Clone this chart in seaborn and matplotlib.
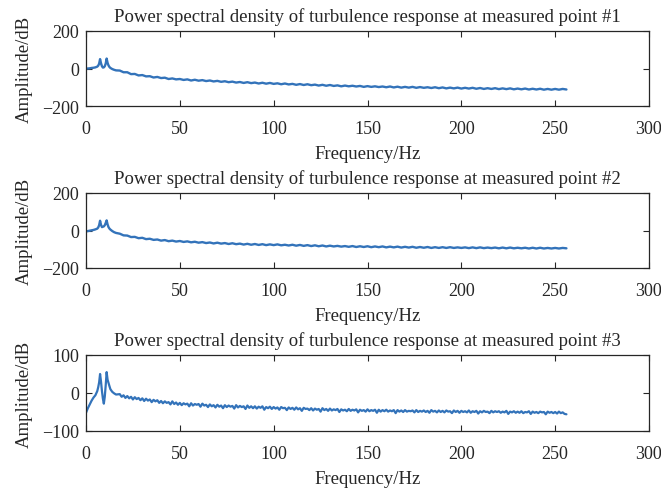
import numpy as np
import pandas as pd
import matplotlib
matplotlib.use("Agg")
import matplotlib.pyplot as plt
import seaborn as sns

# ---- data ----
freq_low = [0, 1, 2, 3, 4, 5, 6, 6.5, 7, 7.5, 8, 8.5, 9, 9.5, 10, 10.5, 11, 11.5, 12, 12.5, 13, 14, 15, 16]
freq_high_2hz = list(range(18, 257, 2))
freq_high_1hz = list(range(18, 257, 1))

psd1_low = [-1, 0, 1, 3, 4, 6, 10, 15, 26, 50, 28, 12, 5, 6, 12, 26, 53, 30, 16, 8, 3, -3, -7, -10]
psd1_high = [
    -11, -20, -20, -30, -29, -37, -35, -42, -41, -48,
    -45, -51, -49, -56, -53, -58, -56, -61, -58, -64,
    -60, -65, -62, -67, -64, -69, -66, -71, -68, -73,
    -70, -75, -72, -77, -73, -78, -75, -80, -76, -81,
    -77, -82, -79, -84, -80, -85, -82, -87, -83, -88,
    -84, -89, -86, -91, -87, -92, -88, -93, -90, -95,
    -91, -95, -92, -96, -93, -98, -94, -98, -95, -99,
    -96, -100, -96, -101, -97, -102, -98, -102, -98, -103,
    -99, -103, -100, -104, -100, -105, -101, -106, -102, -106,
    -102, -107, -103, -107, -103, -108, -104, -109, -105, -109,
    -105, -110, -106, -110, -106, -111, -107, -111, -107, -112,
    -108, -112, -108, -113, -109, -113, -109, -113, -109, -112,
]

psd2_low = [-5, -3, -1, 1, 3, 6, 10, 16, 28, 52, 30, 18, 20, 22, 28, 40, 54, 32, 18, 10, 5, -3, -9, -13]
psd2_high = [
    -17, -26, -27, -35, -34, -41, -39, -46, -44, -50,
    -48, -54, -51, -57, -54, -59, -56, -61, -58, -63,
    -60, -65, -62, -67, -64, -69, -65, -70, -67, -72,
    -68, -73, -70, -75, -71, -76, -72, -77, -73, -78,
    -74, -78, -74, -79, -76, -80, -76, -81, -77, -82,
    -78, -83, -79, -84, -80, -85, -81, -85, -82, -86,
    -83, -87, -83, -88, -84, -88, -84, -89, -85, -89,
    -85, -90, -86, -90, -86, -91, -87, -91, -87, -92,
    -88, -92, -88, -93, -89, -93, -89, -93, -89, -93,
    -90, -93, -90, -94, -90, -94, -90, -94, -91, -94,
    -91, -95, -91, -95, -91, -95, -92, -95, -92, -96,
    -92, -96, -92, -96, -93, -96, -93, -96, -93, -95,
]

psd3_low = [-52, -40, -30, -20, -12, -6, 5, 15, 28, 50, 30, 5, -15, -28, -10, 20, 55, 35, 26, 18, 10, 3, -1, -4]
psd3_high = [
    -3, -10,
    -6, -13, -8, -14, -10, -17, -11, -16, -13, -19,
    -14, -21, -15, -20, -17, -24, -18, -22, -19, -26,
    -21, -27, -22, -26, -24, -30, -22, -29, -25, -31,
    -26, -32, -27, -30, -28, -35, -27, -33, -29, -31,
    -29, -36, -28, -33, -31, -37, -30, -35, -32, -38,
    -31, -36, -33, -40, -32, -37, -33, -36, -34, -41,
    -32, -38, -34, -37, -35, -42, -33, -39, -35, -40,
    -35, -41, -36, -39, -35, -44, -37, -40, -36, -42,
    -37, -41, -38, -44, -37, -40, -39, -45, -38, -42,
    -39, -44, -38, -43, -40, -47, -39, -42, -41, -45,
    -40, -46, -41, -44, -42, -49, -40, -45, -42, -47,
    -41, -46, -43, -45, -42, -50, -43, -46, -44, -48,
    -42, -47, -44, -46, -43, -51, -44, -47, -45, -49,
    -43, -48, -45, -47, -44, -52, -44, -49, -45, -48,
    -44, -49, -46, -48, -45, -53, -45, -49, -46, -50,
    -45, -49, -47, -48, -46, -51, -45, -50, -47, -49,
    -46, -50, -47, -52, -45, -49, -47, -51, -46, -50,
    -47, -51, -46, -49, -48, -53, -46, -50, -47, -52,
    -47, -50, -48, -51, -46, -52, -48, -50, -47, -54,
    -48, -51, -47, -50, -49, -53, -47, -51, -48, -50,
    -48, -52, -49, -51, -47, -55, -49, -51, -48, -52,
    -49, -52, -48, -53, -50, -51, -48, -55, -49, -52,
    -50, -53, -49, -51, -50, -56, -49, -52, -50, -53,
    -50, -54, -49, -53, -51, -55, -56,
]

freqs = [freq_low + freq_high_2hz, freq_low + freq_high_2hz, freq_low + freq_high_1hz]
series = [psd1_low + psd1_high, psd2_low + psd2_high, psd3_low + psd3_high]
titles = [
    "Power spectral density of turbulence response at measured point #1",
    "Power spectral density of turbulence response at measured point #2",
    "Power spectral density of turbulence response at measured point #3",
]
ylims = [(-200, 200), (-200, 200), (-100, 100)]
yticks = [[-200, 0, 200], [-200, 0, 200], [-100, 0, 100]]
xticks = [0, 50, 100, 150, 200, 250, 300]
xlabel = "Frequency/Hz"
ylabel = "Amplitude/dB"

# ---- style ----
sns.set_style("ticks")
plt.rcParams["font.family"] = ["Liberation Serif", "DejaVu Serif"]
plt.rcParams["axes.unicode_minus"] = True
line_color = "#3373BA"
axis_color = "#262626"

W, H = 661, 489
fig = plt.figure(figsize=(W / 100, H / 100), dpi=100)

boxes = [(32, 107), (194, 269), (356, 432)]
left_px, right_px = 86, 649
widths = [1.7, 1.7, 1.6]

for i, (top, bot) in enumerate(boxes):
    ax = fig.add_axes([left_px / W, 1 - bot / H, (right_px - left_px) / W, (bot - top) / H])
    df = pd.DataFrame({"Frequency": freqs[i], "PSD": series[i]})
    sns.lineplot(data=df, x="Frequency", y="PSD", ax=ax, color=line_color,
                 linewidth=widths[i], estimator=None, sort=False)
    ax.set_xlim(0, 300)
    ax.set_ylim(*ylims[i])
    ax.set_xticks(xticks)
    ax.set_yticks(yticks[i])
    ax.set_xticklabels([str(t) for t in xticks])
    ax.set_yticklabels([str(t).replace("-", "\u2212") for t in yticks[i]])
    ax.set_title(titles[i], fontsize=13.5, pad=7, color=axis_color)
    ax.set_xlabel(xlabel, fontsize=13.5, color=axis_color, labelpad=6)
    ax.set_ylabel(ylabel, fontsize=13.5, color=axis_color, labelpad=7)
    ax.tick_params(axis="x", pad=10)
    ax.tick_params(axis="y", pad=5)
    ax.tick_params(direction="in", top=True, right=True, length=4, width=0.8,
                   labelsize=13, colors=axis_color)
    for s in ax.spines.values():
        s.set_visible(True)
        s.set_color(axis_color)
        s.set_linewidth(0.9)

fig.savefig("out.png", dpi=100)
